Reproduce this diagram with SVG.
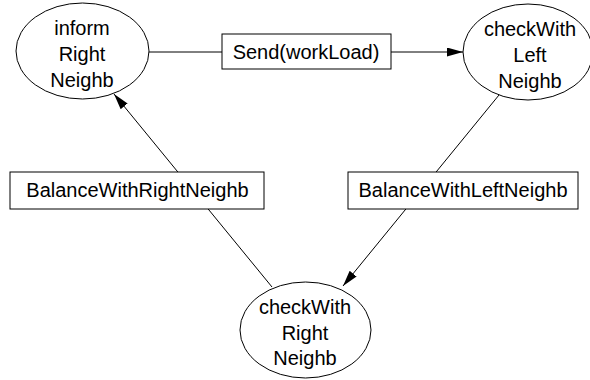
<svg xmlns="http://www.w3.org/2000/svg" width="590" height="380" viewBox="0 0 590 380">
<defs>
<style>
.n{fill:#fff;stroke:#000;stroke-width:1}
.t{font-family:"Liberation Sans",Arial,sans-serif;font-size:20px;fill:#000;text-anchor:middle}
.e{stroke:#000;stroke-width:1;fill:none}
</style>
<marker id="ah" viewBox="0 0 16 9" refX="16" refY="4.5" markerWidth="16" markerHeight="9" markerUnits="userSpaceOnUse" orient="auto">
<path d="M0,0 L16,4.5 L0,9 Z" fill="#000"/>
</marker>
</defs>
<rect width="590" height="380" fill="#fff"/>
<g id="connectors">
<line class="e" x1="149" y1="52" x2="222" y2="52"/>
<line class="e" x1="391" y1="52" x2="463" y2="52" marker-end="url(#ah)"/>
<line class="e" x1="499" y1="95" x2="343" y2="286" marker-end="url(#ah)"/>
<line class="e" x1="272" y1="287" x2="114" y2="94" marker-end="url(#ah)"/>
</g>
<g id="informRightNeighb">
<ellipse class="n" cx="82.5" cy="51" rx="66.5" ry="48"/>
<text class="t" x="82" y="34.5">inform</text>
<text class="t" x="82" y="60.5">Right</text>
<text class="t" x="82" y="86.5">Neighb</text>
</g>
<g id="checkWithLeftNeighb">
<ellipse class="n" cx="528" cy="52" rx="65" ry="48"/>
<text class="t" x="530" y="36">checkWith</text>
<text class="t" x="530" y="62">Left</text>
<text class="t" x="530" y="87.5">Neighb</text>
</g>
<g id="checkWithRightNeighb">
<ellipse class="n" cx="305.5" cy="330" rx="65.5" ry="48"/>
<text class="t" x="305" y="313.5">checkWith</text>
<text class="t" x="305" y="339.5">Right</text>
<text class="t" x="305" y="364.5">Neighb</text>
</g>
<g id="sendWorkLoad">
<rect class="n" x="222" y="34" width="169" height="35"/>
<text class="t" x="306" y="58.5">Send(workLoad)</text>
</g>
<g id="balanceWithRightNeighb">
<rect class="n" x="10" y="172" width="254" height="37"/>
<text class="t" x="137.5" y="197">BalanceWithRightNeighb</text>
</g>
<g id="balanceWithLeftNeighb">
<rect class="n" x="348" y="172" width="230" height="37"/>
<text class="t" x="463" y="197">BalanceWithLeftNeighb</text>
</g>
</svg>
